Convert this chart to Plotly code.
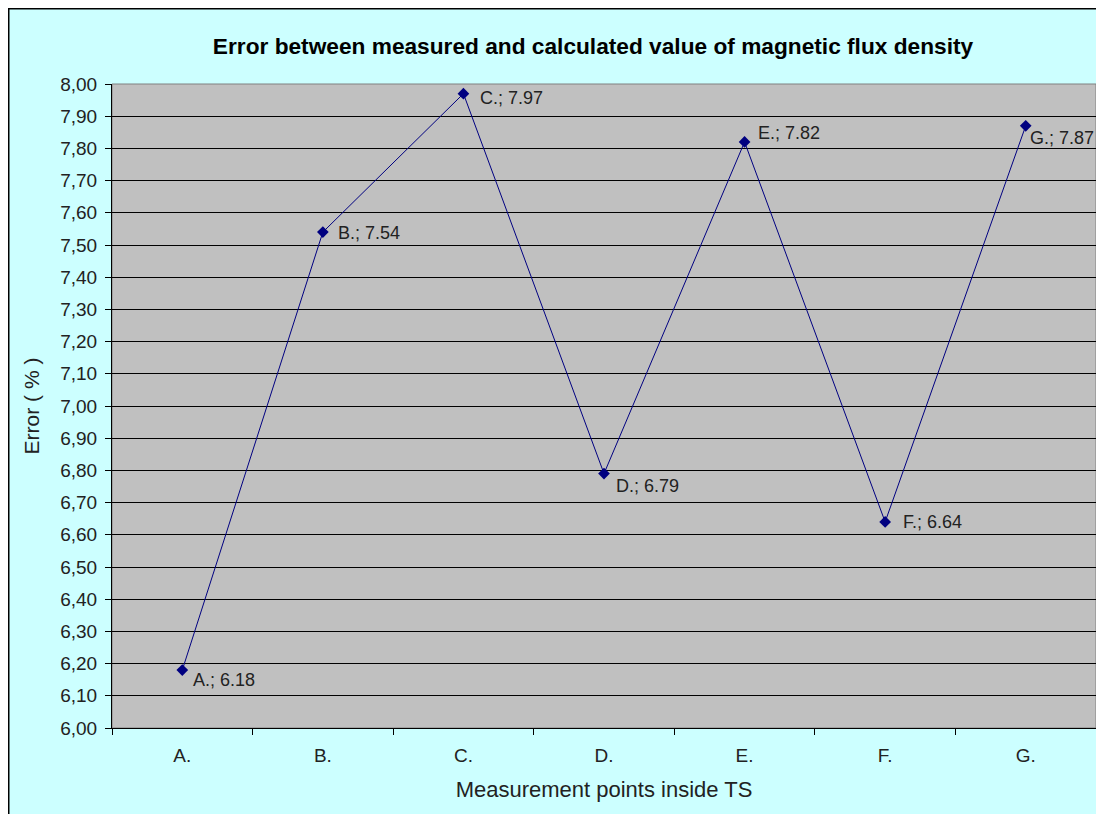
import plotly.graph_objects as go

categories = ["A.", "B.", "C.", "D.", "E.", "F.", "G."]
errors = [6.18, 7.54, 7.97, 6.79, 7.82, 6.64, 7.87]
label_values = ["6.18", "7.54", "7.97", "6.79", "7.82", "6.64", "7.87"]
y_ticks = [6.0 + 0.1 * i for i in range(21)]
y_tick_labels = [f"{v:.2f}".replace(".", ",") for v in y_ticks]

# label placement offsets (pixels, right / down from each marker)
label_dx = [9, 13, 15, 10, 11, 16, 2]
label_dy = [10, 1, 4, 12, -9, 0, 12]

W, H = 1104, 814
L, R, T, B = 104, 16, 76, 94
pw, ph = W - L - R, H - T - B

def px_x(px):
    return (px - L) / pw

def px_y(py):
    return (H - B - py) / ph

font = "Liberation Sans, Arial, sans-serif"
fig = go.Figure()
fig.add_trace(go.Scatter(
    x=categories, y=errors, mode="lines+markers",
    line=dict(color="#000080", width=1),
    marker=dict(symbol="diamond", size=9, color="#000080"),
    cliponaxis=False, showlegend=False,
))

annotations = []
for c, v, lv, dx, dy in zip(categories, errors, label_values, label_dx, label_dy):
    annotations.append(dict(
        x=c, y=v, xref="x", yref="y", text=f"{c}; {lv}", showarrow=False,
        xanchor="left", yanchor="middle", xshift=dx, yshift=-dy,
        font=dict(family=font, size=18, color="#222222"),
    ))

fig.update_layout(
    width=W, height=H,
    margin=dict(l=L, r=R, t=T, b=B),
    paper_bgcolor="#CCFFFF",
    plot_bgcolor="#C0C0C0",
    annotations=annotations,
    title=dict(text="<b>Error between measured and calculated value of magnetic flux density</b>",
               x=px_x(585), xref="paper", xanchor="center",
               y=1 - 38 / H, yanchor="middle",
               font=dict(family=font, size=22.7, color="black")),
    xaxis=dict(
        type="category", range=[-0.5, 6.5],
        showline=True, linecolor="black", linewidth=1,
        ticks="outside", tickson="boundaries", ticklen=6, tickcolor="black",
        showgrid=False, zeroline=False, ticklabelstandoff=10,
        tickfont=dict(family=font, size=19, color="#222222"),
        title=dict(text="Measurement points inside TS", standoff=16,
                   font=dict(family=font, size=22, color="#222222")),
    ),
    yaxis=dict(
        range=[6.0, 8.0], tickmode="array", tickvals=y_ticks, ticktext=y_tick_labels,
        showline=True, linecolor="black", linewidth=1,
        ticks="outside", ticklen=6, tickcolor="black",
        showgrid=True, gridcolor="black", gridwidth=1, zeroline=False,
        ticklabelstandoff=4,
        tickfont=dict(family=font, size=19, color="#222222"),
        title=dict(text="Error ( % )", standoff=14,
                   font=dict(family=font, size=21, color="#222222")),
    ),
    shapes=[
        dict(type="rect", xref="paper", yref="paper", layer="below",
             x0=px_x(0.5), x1=px_x(W + 20), y0=px_y(H + 20), y1=px_y(0.5),
             fillcolor="rgba(0,0,0,0)", line=dict(color="black", width=2)),
        dict(type="rect", xref="paper", yref="paper", layer="below",
             x0=0, x1=1, y0=0, y1=1,
             fillcolor="#C0C0C0", line=dict(color="#808080", width=1)),
    ],
)

fig.write_html("out.html")
